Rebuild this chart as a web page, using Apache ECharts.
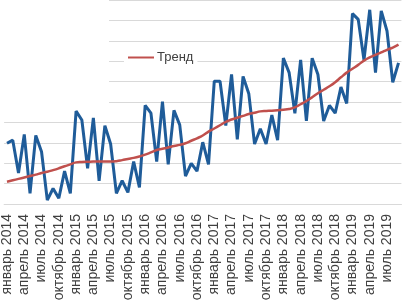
<!DOCTYPE html>
<head>
    <meta charset="utf-8"/>
    <style>html,body{margin:0;padding:0;background:#fff;}</style>
</head>
<body>
<div id="main" style="width:403px;height:306px;"></div>
<script src="https://cdn.jsdelivr.net/npm/echarts@6/dist/echarts.min.js"></script>
<script type="text/javascript">
// месяцы и годы для подписей оси
var months = ['январь','февраль','март','апрель','май','июнь','июль','август','сентябрь','октябрь','ноябрь','декабрь'];
var years = [2014, 2015, 2016, 2017, 2018, 2019];
var lastMonth = 9; // данные до сентября 2019

// помесячные значения (синяя линия)
var monthly = [
 29.8, 31.3, 15.2, 34.1, 5.2, 33.6, 25.6, 1.9, 7.6, 2.8, 16.1, 5.2,
 45.5, 41.2, 17.5, 42.2, 11.4, 38.4, 29.4, 5.2, 11.4, 5.7, 20.8, 8.1,
 48.3, 44.5, 20.8, 50.2, 19.4, 45.9, 38.8, 13.7, 19.9, 16.1, 30.3, 19.4,
 60.2, 60.2, 38.4, 63.5, 31.7, 62.5, 54.0, 29.4, 36.9, 29.4, 43.6, 31.3,
 71.5, 64.4, 44.5, 70.6, 40.7, 71.5, 63.5, 40.7, 48.3, 44.5, 57.3, 49.3,
 93.3, 90.5, 70.6, 95.2, 64.4, 94.7, 84.8, 59.7, 69.2
];
// тренд (красная линия)
var trend = [
 10.9, 11.6, 12.3, 13.0, 13.7, 14.4, 15.2, 15.8, 16.6, 17.5, 18.5, 19.4,
 20.4, 20.6, 20.7, 20.8, 20.8, 20.8, 20.8, 21.0, 21.5, 22.1, 22.6, 23.3,
 24.2, 25.3, 26.5, 27.1, 27.7, 28.4, 29.0, 29.8, 31.0, 32.2, 33.6, 35.5,
 37.0, 38.6, 40.3, 41.4, 42.3, 43.2, 44.1, 44.7, 45.4, 45.6, 45.7, 45.9,
 46.2, 46.6, 47.4, 48.9, 50.5, 52.3, 54.3, 56.0, 57.7, 59.7, 62.1, 64.4,
 66.3, 68.2, 70.3, 71.9, 73.1, 74.3, 75.6, 76.7, 78.1
];

var categories = [];
years.forEach(function(y){
  months.forEach(function(m, i){
    if (y == 2019 && i >= lastMonth) return;
    categories.push(m + ' ' + y);
  });
});

var myChart = echarts.init(document.getElementById('main'));
var options = {
  animation: false,
  grid: { left: 4, right: 1.6, top: -7, bottom: 102, containLabel: false },
  legend: {
    data: ['Тренд'],
    left: 124, top: 49,
    itemWidth: 26, itemHeight: 2, itemGap: 4,
    backgroundColor: '#fff',
    padding: [2, 4, 2, 4],
    icon: 'rect',
    textStyle: { fontFamily: 'Liberation Sans', fontSize: 13, color: '#404040', padding: [0, 0, 0, -2] }
  },
  graphic: [{
    type: 'rect', z: 1,
    shape: { x: 0, y: 0, width: 109, height: 104 },
    style: { fill: '#fff' }
  }],
  xAxis: {
    type: 'category',
    data: categories,
    boundaryGap: true,
    axisLine: { lineStyle: { color: '#d9d9d9' } },
    axisTick: { show: false },
    axisLabel: {
      interval: 2, rotate: 90, margin: 10,
      fontFamily: 'Liberation Sans', fontSize: 14, color: '#404040'
    }
  },
  yAxis: {
    type: 'value', min: 0, max: 100, interval: 10,
    axisLabel: { show: false },
    axisLine: { show: false },
    axisTick: { show: false },
    splitLine: { lineStyle: { color: '#d9d9d9', width: 1 } }
  },
  series: [{
    name: 'Помесячно',
    type: 'line',
    data: monthly,
    symbol: 'none',
    lineStyle: { color: '#1f5c99', width: 3 },
    itemStyle: { color: '#1f5c99' }
  }, {
    name: 'Тренд',
    type: 'line',
    data: trend,
    symbol: 'none',
    smooth: true,
    lineStyle: { color: '#c0504d', width: 2.5 },
    itemStyle: { color: '#c0504d' }
  }]
};
myChart.setOption(options);
</script>
</body>
